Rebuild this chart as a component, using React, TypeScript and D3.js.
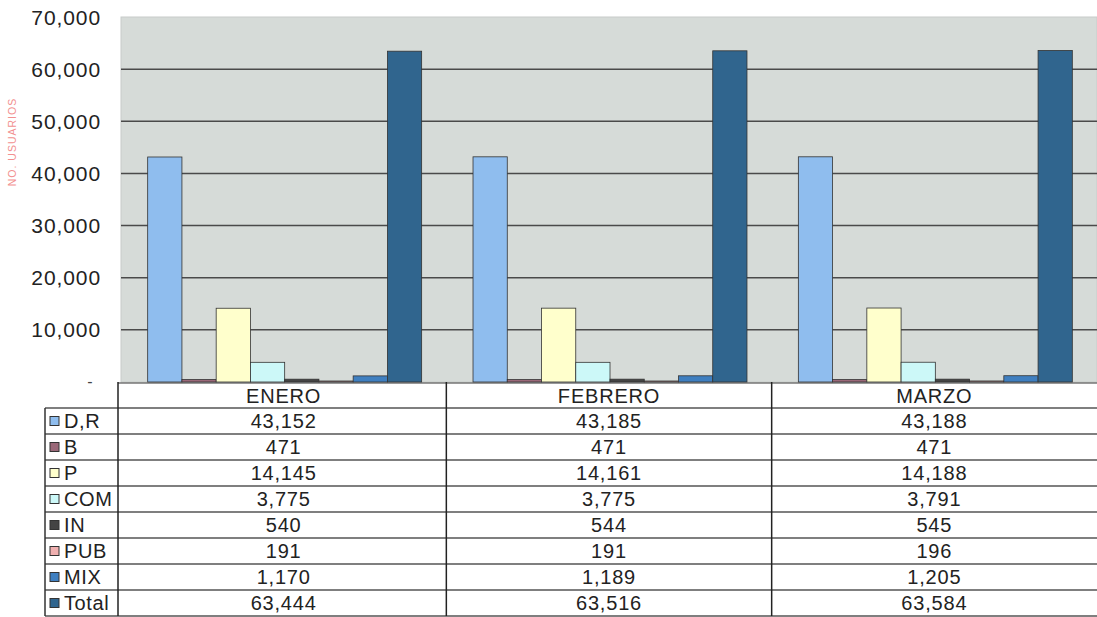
import React from "react";
import * as d3 from "d3";

const months = ["ENERO", "FEBRERO", "MARZO"];
const seriesNames = ["D,R", "B", "P", "COM", "IN", "PUB", "MIX", "Total"];
const DR = [43152, 43185, 43188];
const B = [471, 471, 471];
const P = [14145, 14161, 14188];
const COM = [3775, 3775, 3791];
const IN = [540, 544, 545];
const PUB = [191, 191, 196];
const MIX = [1170, 1189, 1205];
const Total = [63444, 63516, 63584];
const seriesValues = [DR, B, P, COM, IN, PUB, MIX, Total];
const yTicks = [10000, 20000, 30000, 40000, 50000, 60000, 70000];
const colors = ["#8fbdee", "#9a6878", "#ffffcc", "#ccf8f8", "#444444", "#f0b0b0", "#3f7fc0", "#30658e"];

const W = 1097, H = 617;
const plotL = 121, plotR = 1097, plotT = 17, plotB = 382;
const tableL = 45, rowH = 26, headerB = 408;

export default function App() {
  const x0 = d3.scaleBand<string>().domain(months).range([plotL, plotR]).paddingInner(0).paddingOuter(0);
  const x1 = d3.scaleBand<string>().domain(seriesNames).range([0, x0.bandwidth()]).paddingInner(0).paddingOuter(0.75);
  const y = d3.scaleLinear().domain([0, 70000]).range([plotB, plotT]);
  const fmt = d3.format(",");
  const font = "'Liberation Sans', Arial, sans-serif";

  return (
    <svg width={W} height={H} style={{ position: "absolute", left: 0, top: 0, background: "#fff" }} fontFamily={font}>
      <rect x={plotL} y={plotT} width={plotR - plotL} height={plotB - plotT} fill="#d6dbd8" stroke="#c8ccca" strokeWidth={1} />
      {yTicks.slice(0, -1).map((t) => (
        <line key={t} x1={plotL} x2={plotR} y1={y(t)} y2={y(t)} stroke="#4a4a4a" strokeWidth={1.5} />
      ))}
      {yTicks.map((t) => (
        <text key={t} x={101} y={y(t)} dy="0.36em" textAnchor="end" fontSize={21} letterSpacing={0.9} fill="#222">{fmt(t)}</text>
      ))}
      <text x={90} y={y(0)} dy="0.3em" textAnchor="middle" fontSize={16} fill="#444">-</text>
      <text transform={`translate(16,142) rotate(-90)`} textAnchor="middle" fontSize={10.5} letterSpacing={1} fill="#f29090">NO. USUARIOS</text>
      {months.map((m, i) => (
        <g key={m} transform={`translate(${x0(m)},0)`}>
          {seriesNames.map((s, j) => {
            const v = seriesValues[j][i];
            return (
              <rect key={s} x={(x1(s) as number) + 1} y={y(v)} width={x1.bandwidth()} height={y(0) - y(v)}
                fill={colors[j]} stroke="#333" strokeWidth={0.8} />
            );
          })}
        </g>
      ))}
      {/* table */}
      <line x1={118} x2={W} y1={plotB + 1} y2={plotB + 1} stroke="#333" strokeWidth={1} />
      {d3.range(seriesNames.length + 1).map((k) => (
        <line key={k} x1={tableL} x2={W} y1={headerB + k * rowH} y2={headerB + k * rowH} stroke="#555" strokeWidth={1.5} />
      ))}
      <line x1={tableL} x2={tableL} y1={headerB} y2={headerB + 8 * rowH} stroke="#333" strokeWidth={1.5} />
      <line x1={118} x2={118} y1={plotB} y2={headerB + 8 * rowH} stroke="#222" strokeWidth={1.5} />
      {months.slice(1).map((m) => (
        <line key={m} x1={x0(m)} x2={x0(m)} y1={plotB} y2={headerB + 8 * rowH} stroke="#222" strokeWidth={1.5} />
      ))}
      {months.map((m) => (
        <text key={m} x={(x0(m) as number) + x0.bandwidth() / 2} y={(plotB + headerB) / 2 + 1} dy="0.36em" textAnchor="middle" fontSize={20} letterSpacing={0.8} fill="#222">{m}</text>
      ))}
      {seriesNames.map((s, j) => {
        const cy = headerB + j * rowH + rowH / 2;
        return (
          <g key={s}>
            <rect x={50} y={cy - 4.5} width={9} height={9} fill={colors[j]} stroke="#333" strokeWidth={1} />
            <text x={64} y={cy} dy="0.36em" fontSize={20} letterSpacing={0.6} fill="#222">{s}</text>
            {months.map((m, i) => (
              <text key={m} x={(x0(m) as number) + x0.bandwidth() / 2} y={cy} dy="0.36em" textAnchor="middle" fontSize={20} letterSpacing={0.8} fill="#222">{fmt(seriesValues[j][i])}</text>
            ))}
          </g>
        );
      })}
    </svg>
  );
}
